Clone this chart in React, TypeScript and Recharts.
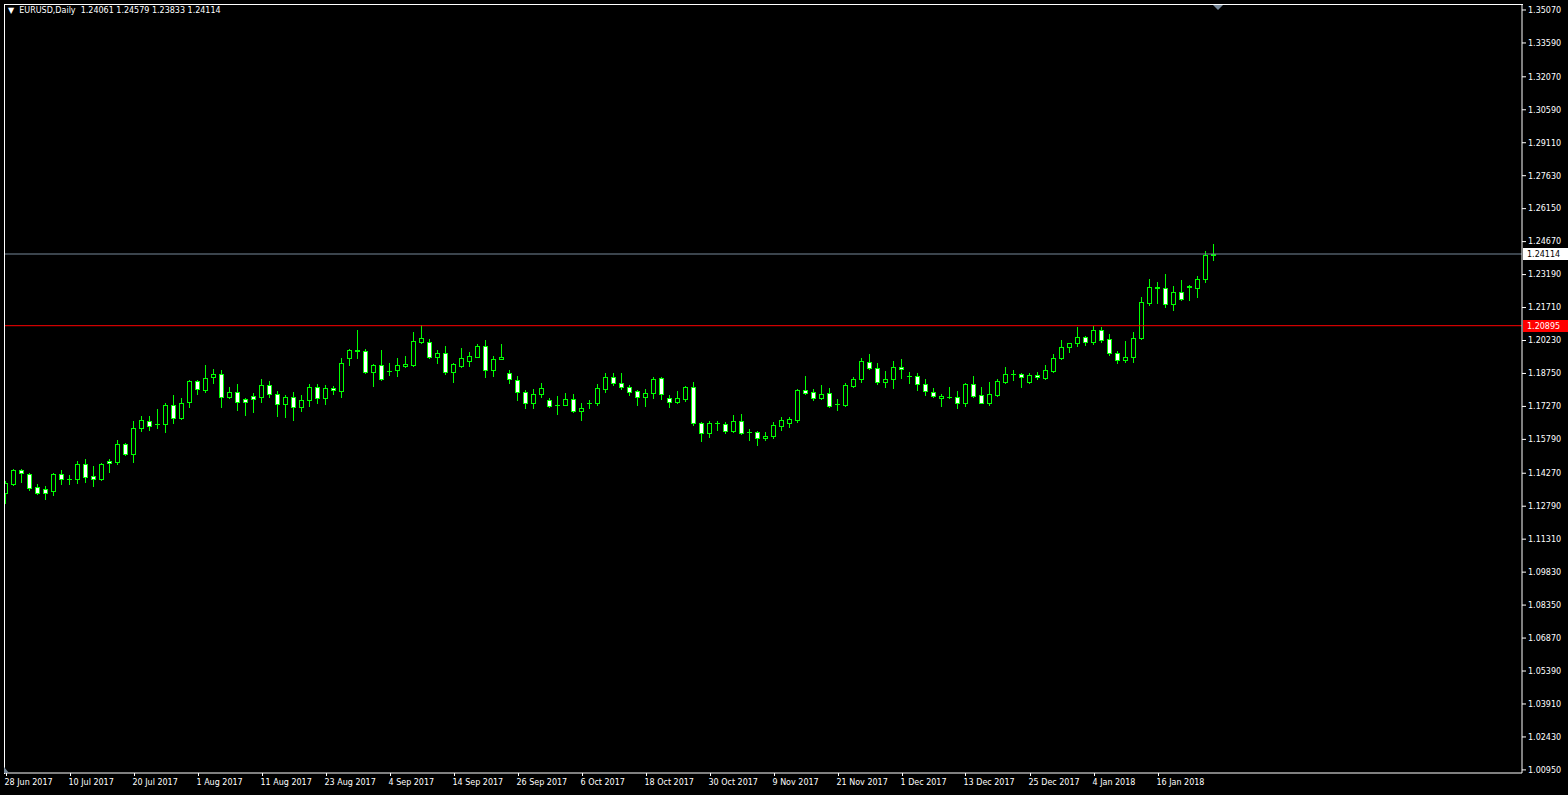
import { ComposedChart, Bar, XAxis, YAxis, ReferenceLine } from "recharts";

// EURUSD daily candles, 28 Jun 2017 .. 25 Jan 2018 (index = trading day)
const opens = [
  1.1338, 1.1379, 1.1442, 1.1424, 1.1365, 1.1356, 1.1347, 1.1424, 1.1401, 1.1401,
  1.1469, 1.1415, 1.1401, 1.1482, 1.1478, 1.1558, 1.1513, 1.163, 1.1662, 1.1649,
  1.1648, 1.1733, 1.1675, 1.1747, 1.1841, 1.1801, 1.1859, 1.1873, 1.1769, 1.1792,
  1.176, 1.1774, 1.1769, 1.1823, 1.1783, 1.1738, 1.1769, 1.1724, 1.1756, 1.1814,
  1.1765, 1.181, 1.1796, 1.1944, 1.198, 1.1976, 1.1882, 1.1913, 1.1886, 1.1891,
  1.1909, 1.1913, 1.2016, 1.2016, 1.1949, 1.1967, 1.1882, 1.1909, 1.1931, 1.1949,
  1.1998, 1.1891, 1.194, 1.1877, 1.1846, 1.1792, 1.1742, 1.1783, 1.1756, 1.1734,
  1.1733, 1.176, 1.1706, 1.1742, 1.1742, 1.1805, 1.1859, 1.1832, 1.1814, 1.1796,
  1.1769, 1.1787, 1.1855, 1.1765, 1.1747, 1.176, 1.1814, 1.1653, 1.1608, 1.1653,
  1.1648, 1.1617, 1.1662, 1.1612, 1.1612, 1.1585, 1.1594, 1.1639, 1.1653, 1.1666,
  1.1801, 1.1792, 1.1765, 1.1787, 1.1738, 1.1733, 1.1819, 1.185, 1.1927, 1.19,
  1.1837, 1.185, 1.1904, 1.1864, 1.1864, 1.1828, 1.1792, 1.1767, 1.1769, 1.1769,
  1.1742, 1.1828, 1.1778, 1.1742, 1.1778, 1.1837, 1.1873, 1.1873, 1.1837, 1.1868,
  1.1855, 1.1886, 1.1944, 1.1994, 1.2012, 1.2039, 1.2016, 1.207, 1.203, 1.1967,
  1.1935, 1.1949, 1.2034, 1.2191, 1.2261, 1.2259, 1.2187, 1.2241, 1.2268, 1.2259,
  1.2299, 1.24061,
];

const highs = [
  1.1392, 1.1446, 1.1446, 1.1428, 1.1379, 1.137, 1.1428, 1.1442, 1.1419, 1.1482,
  1.1491, 1.146, 1.1473, 1.1491, 1.1576, 1.1563, 1.1662, 1.1684, 1.1684, 1.1716,
  1.1742, 1.1778, 1.1765, 1.1846, 1.1846, 1.1913, 1.1895, 1.1891, 1.1814, 1.1828,
  1.1765, 1.1787, 1.185, 1.1841, 1.1796, 1.1778, 1.1792, 1.1778, 1.1828, 1.1828,
  1.1823, 1.1819, 1.1944, 1.1985, 1.207, 1.1985, 1.1916, 1.198, 1.1922, 1.1944,
  1.1954, 1.2061, 1.2093, 1.203, 1.198, 1.1998, 1.1922, 1.1989, 1.1971, 1.2007,
  1.2025, 1.1954, 1.2007, 1.1891, 1.1864, 1.1801, 1.1805, 1.1832, 1.1765, 1.1774,
  1.1787, 1.1783, 1.1742, 1.1756, 1.1828, 1.1877, 1.1877, 1.1877, 1.1823, 1.1801,
  1.1805, 1.1859, 1.1859, 1.1778, 1.1796, 1.1819, 1.1837, 1.1657, 1.1662, 1.1662,
  1.1657, 1.1688, 1.1693, 1.1626, 1.1617, 1.1612, 1.1657, 1.168, 1.168, 1.1805,
  1.1864, 1.1805, 1.1823, 1.181, 1.176, 1.1832, 1.1859, 1.1944, 1.1962, 1.1922,
  1.1886, 1.1931, 1.194, 1.1882, 1.1877, 1.185, 1.181, 1.1783, 1.1814, 1.1796,
  1.1832, 1.1864, 1.1814, 1.1837, 1.185, 1.1904, 1.1891, 1.1877, 1.1877, 1.1882,
  1.1913, 1.1962, 1.2025, 1.2014, 1.2084, 1.2043, 1.2088, 1.2084, 1.2052, 1.1976,
  1.2021, 1.2061, 1.2218, 1.2299, 1.2286, 1.2322, 1.2268, 1.2295, 1.2272, 1.2313,
  1.2425, 1.24579,
];

const lows = [
  1.1293, 1.1374, 1.1388, 1.1352, 1.1334, 1.1311, 1.1329, 1.1379, 1.1379, 1.1383,
  1.1388, 1.137, 1.1397, 1.1433, 1.1469, 1.1509, 1.1478, 1.1617, 1.1621, 1.163,
  1.1612, 1.1653, 1.1671, 1.1724, 1.1783, 1.1792, 1.1832, 1.1724, 1.1765, 1.1711,
  1.1688, 1.1702, 1.1747, 1.1769, 1.1684, 1.168, 1.1666, 1.1706, 1.1729, 1.1742,
  1.1738, 1.1783, 1.1769, 1.1913, 1.1944, 1.1877, 1.1819, 1.1846, 1.1868, 1.1864,
  1.1904, 1.1909, 1.2012, 1.1944, 1.1922, 1.1873, 1.1837, 1.1904, 1.1909, 1.1949,
  1.1859, 1.1864, 1.194, 1.1832, 1.1756, 1.172, 1.172, 1.1769, 1.1724, 1.1693,
  1.1733, 1.1702, 1.1666, 1.172, 1.1733, 1.1792, 1.1823, 1.1805, 1.1778, 1.1733,
  1.1729, 1.1765, 1.176, 1.1724, 1.1742, 1.1751, 1.1644, 1.1572, 1.159, 1.1621,
  1.1608, 1.1612, 1.1603, 1.1576, 1.1554, 1.1576, 1.1585, 1.1621, 1.1635, 1.1657,
  1.1785, 1.1756, 1.176, 1.1724, 1.1711, 1.1729, 1.1814, 1.1837, 1.1895, 1.1828,
  1.1814, 1.181, 1.1855, 1.1832, 1.1801, 1.1778, 1.1769, 1.1729, 1.1765, 1.172,
  1.1729, 1.1769, 1.1742, 1.1733, 1.1774, 1.1832, 1.1846, 1.1814, 1.1832, 1.185,
  1.185, 1.1882, 1.194, 1.1971, 1.1998, 1.2003, 1.2007, 1.2016, 1.1958, 1.1922,
  1.1927, 1.1927, 1.203, 1.2182, 1.2191, 1.2173, 1.216, 1.2205, 1.2205, 1.2218,
  1.2286, 1.23833,
];

const closes = [
  1.1383, 1.1442, 1.1428, 1.1361, 1.1338, 1.1338, 1.1424, 1.1401, 1.14, 1.1469,
  1.141, 1.1401, 1.1469, 1.1473, 1.1558, 1.1513, 1.163, 1.1666, 1.1639, 1.1648,
  1.1733, 1.1675, 1.1742, 1.1841, 1.1805, 1.1855, 1.1873, 1.1769, 1.1792, 1.1747,
  1.1747, 1.176, 1.1823, 1.1783, 1.1738, 1.1769, 1.1724, 1.1756, 1.1814, 1.1765,
  1.181, 1.1801, 1.1922, 1.198, 1.1976, 1.1882, 1.1913, 1.185, 1.1887, 1.1913,
  1.1918, 1.2021, 1.2034, 1.1949, 1.1967, 1.1882, 1.1918, 1.1944, 1.1954, 1.1998,
  1.1891, 1.194, 1.1949, 1.185, 1.1792, 1.1742, 1.1783, 1.181, 1.1729, 1.1733,
  1.176, 1.1706, 1.172, 1.1743, 1.181, 1.1859, 1.1832, 1.1814, 1.1792, 1.1769,
  1.1787, 1.185, 1.1783, 1.1747, 1.1765, 1.1814, 1.1653, 1.1608, 1.1653, 1.1652,
  1.1617, 1.1662, 1.1608, 1.1611, 1.1585, 1.1594, 1.1644, 1.1666, 1.1671, 1.1801,
  1.1788, 1.1765, 1.1783, 1.1729, 1.1737, 1.1823, 1.185, 1.1931, 1.19, 1.1837,
  1.185, 1.1904, 1.1895, 1.1863, 1.1828, 1.1796, 1.1774, 1.1772, 1.177, 1.1742,
  1.1828, 1.1774, 1.1742, 1.1783, 1.1841, 1.1873, 1.1874, 1.1859, 1.1868, 1.1859,
  1.1891, 1.1944, 1.1994, 1.2012, 1.2039, 1.2016, 1.207, 1.2025, 1.1967, 1.1935,
  1.1949, 1.2034, 1.2196, 1.2263, 1.2259, 1.2187, 1.2241, 1.2209, 1.2263, 1.2299,
  1.2407, 1.24114,
];

// one date label every 8 bars
const dateLabels = [
  "28 Jun 2017", "10 Jul 2017", "20 Jul 2017", "1 Aug 2017", "11 Aug 2017",
  "23 Aug 2017", "4 Sep 2017", "14 Sep 2017", "26 Sep 2017", "6 Oct 2017",
  "18 Oct 2017", "30 Oct 2017", "9 Nov 2017", "21 Nov 2017", "1 Dec 2017",
  "13 Dec 2017", "25 Dec 2017", "4 Jan 2018", "16 Jan 2018",
];

const priceTicks = [
  1.3507, 1.3359, 1.3207, 1.3059, 1.2911, 1.2763, 1.2615, 1.2467, 1.2319, 1.2171,
  1.2023, 1.1875, 1.1727, 1.1579, 1.1427, 1.1279, 1.1131, 1.0983, 1.0835, 1.0687,
  1.0539, 1.0391, 1.0243, 1.0095,
];

const bidPrice = 1.24114;
const hLinePrice = 1.20895;
const symbol = "EURUSD,Daily";

const W = 1568;
const H = 795;
const GREEN = "#00ff00";
const FONT = "'DejaVu Sans', sans-serif";

const data = opens.map((open, i) => ({
  idx: i,
  open,
  high: highs[i],
  low: lows[i],
  close: closes[i],
  range: [lows[i], highs[i]],
}));

const tickIdx = dateLabels.map((_, i) => i * 8);

function Candle(props: any) {
  const { x, y, width, height, payload } = props;
  if (x == null || !payload) return null;
  const { open, close, high, low } = payload;
  const top = Math.min(y, y + height);
  const h = Math.abs(height);
  const k = high - low > 0 ? h / (high - low) : 0;
  const py = (p: number) => top + (high - p) * k;
  const cx = Math.floor(x + width / 2) + 0.5;
  const bTop = Math.round(py(Math.max(open, close)));
  const bBot = Math.round(py(Math.min(open, close)));
  const up = close >= open;
  return (
    <g>
      <line x1={cx} x2={cx} y1={Math.round(top)} y2={Math.round(top + h) + 1} stroke={GREEN} />
      {bBot - bTop < 1 ? (
        <line x1={cx - 2.5} x2={cx + 2.5} y1={bTop + 0.5} y2={bTop + 0.5} stroke={GREEN} />
      ) : (
        <rect
          x={cx - 2}
          y={bTop + 0.5}
          width={4}
          height={bBot - bTop}
          fill={up ? "#000" : "#fff"}
          stroke={GREEN}
        />
      )}
    </g>
  );
}

function DateTick({ x, y, payload }: any) {
  const label = dateLabels[Math.round(payload.value / 8)];
  const tx = Math.floor(x) + 0.5;
  return (
    <g>
      <line x1={tx} x2={tx} y1={y} y2={y + 3} stroke="#fff" />
      <text x={tx - 2} y={y + 12} fill="#fff" fontSize={8} fontFamily={FONT} textAnchor="start">
        {label}
      </text>
    </g>
  );
}

function PriceBox({ viewBox, value, bg, color }: any) {
  if (!viewBox) return null;
  const x = viewBox.x + viewBox.width + 1;
  const y = Math.round(viewBox.y);
  return (
    <g>
      <rect x={x} y={y - 6} width={45} height={12} fill={bg} />
      <text x={x + 4} y={y + 3} fill={color} fontSize={8} fontFamily={FONT}>
        {value.toFixed(5)}
      </text>
    </g>
  );
}

export default function App() {
  return (
    <div
      style={{
        position: "fixed",
        left: 0,
        top: 0,
        width: W,
        height: H,
        background: "#000",
        overflow: "hidden",
      }}
    >
      <ComposedChart
        width={W}
        height={H}
        data={data}
        margin={{ top: 4, right: 0, bottom: 0, left: 4 }}
      >
        <XAxis
          dataKey="idx"
          type="number"
          domain={[-0.25, 189.5]}
          allowDataOverflow
          ticks={tickIdx}
          interval={0}
          height={22}
          tickSize={0}
          tickMargin={0}
          axisLine={{ stroke: "#fff" }}
          tickLine={false}
          tick={<DateTick />}
        />
        <YAxis
          orientation="right"
          type="number"
          domain={[1.00811, 1.35339]}
          allowDataOverflow
          ticks={priceTicks}
          interval={0}
          width={46}
          tickSize={4}
          tickMargin={2}
          axisLine={{ stroke: "#fff" }}
          tickLine={{ stroke: "#fff" }}
          tick={{ fill: "#fff", fontSize: 8, fontFamily: FONT }}
          tickFormatter={(v: number) => v.toFixed(5)}
        />
        <ReferenceLine
          y={hLinePrice}
          stroke="#ff0000"
          ifOverflow="visible"
          label={(p: any) => <PriceBox {...p} value={hLinePrice} bg="#ff0000" color="#fff" />}
        />
        <ReferenceLine
          y={bidPrice}
          stroke="#778899"
          ifOverflow="visible"
          label={(p: any) => <PriceBox {...p} value={bidPrice} bg="#fff" color="#000" />}
        />
        <Bar
          dataKey="range"
          barSize={5}
          isAnimationActive={false}
          shape={(p: any) => <Candle {...p} />}
        />
      </ComposedChart>
      {/* top and left frame lines */}
      <div
        style={{
          position: "absolute",
          left: 4,
          top: 4,
          width: 1518,
          height: 769,
          borderLeft: "1px solid #fff",
          borderTop: "1px solid #fff",
          pointerEvents: "none",
        }}
      />
      <div
        style={{
          position: "absolute",
          left: 8,
          top: 6,
          color: "#fff",
          fontFamily: FONT,
          fontSize: 8,
          whiteSpace: "pre",
          lineHeight: "10px",
        }}
      >
        {"\u25BC  " + symbol + "  " + [opens[151], highs[151], lows[151], closes[151]].map((v) => v.toFixed(5)).join(" ")}
      </div>
      <svg style={{ position: "absolute", left: 0, top: 0 }} width={W} height={H}>
        <polygon points="1213,5 1223,5 1218,10" fill="#778899" />
        <polygon points="4,767 4,773 9,773" fill="#778899" />
      </svg>
    </div>
  );
}
